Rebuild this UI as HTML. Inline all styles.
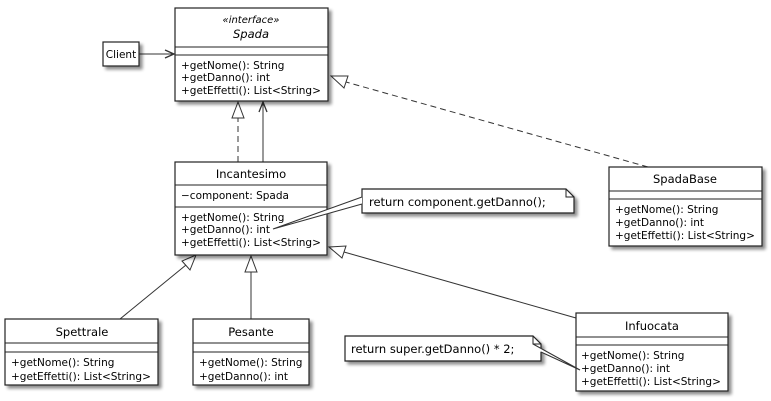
<!DOCTYPE html>
<html><head><meta charset="utf-8"><style>
html,body{margin:0;padding:0;background:#fff;}
svg{display:block;}
text{font-family:"DejaVu Sans","Liberation Sans",sans-serif;font-size:10.5px;fill:#000;}
</style></head><body>
<svg width="771" height="401" viewBox="0 0 771 401" xmlns="http://www.w3.org/2000/svg">
<defs>
<filter id="sh" x="-10%" y="-10%" width="130%" height="130%">
<feGaussianBlur in="SourceAlpha" stdDeviation="1.5"/><feOffset dx="3" dy="3"/>
<feComponentTransfer><feFuncA type="linear" slope="0.45"/></feComponentTransfer>
<feMerge><feMergeNode/><feMergeNode in="SourceGraphic"/></feMerge></filter>
</defs>
<g stroke="#333" fill="none" stroke-width="1">
<!-- connectors -->
<line x1="139" y1="54" x2="173" y2="54"/>
<path d="M165,50 L174,54 L165,58" stroke-width="1.3"/>
<line x1="238" y1="162" x2="238" y2="118" stroke-dasharray="6,4"/>
<path d="M238,102 L232,118 L244,118 Z" fill="#fff"/>
<line x1="263" y1="162" x2="263" y2="103"/>
<path d="M259,112 L263,102 L267,112" stroke-width="1.3"/>
<line x1="648" y1="167" x2="346" y2="82" stroke-dasharray="6,4"/>
<path d="M331,76 L348,76 L344,88 Z" fill="#fff"/>
<line x1="120" y1="319" x2="186" y2="265"/>
<path d="M196,255 L182,261 L190,270 Z" fill="#fff"/>
<line x1="251" y1="319" x2="251" y2="271"/>
<path d="M251,256 L245,272 L257,272 Z" fill="#fff"/>
<line x1="576" y1="318" x2="344" y2="252"/>
<path d="M329,247 L346,246 L342,258 Z" fill="#fff"/>
</g>
<g stroke="#222" stroke-width="1.2" fill="#fff" filter="url(#sh)">
<rect x="103" y="42" width="36" height="24"/>
<rect x="175" y="8" width="153" height="93"/>
<rect x="175" y="162" width="152" height="93"/>
<rect x="609" y="167" width="153" height="79"/>
<rect x="5" y="319" width="153" height="66"/>
<rect x="193" y="319" width="116" height="66"/>
<rect x="576" y="313" width="152" height="78"/>
<path d="M362,189 L566,189 L574,197 L574,213 L362,213 Z"/>
<path d="M345,336 L533,336 L541,344 L541,361 L345,361 Z"/>
</g>
<g stroke="#222" stroke-width="1" fill="none">
<line x1="175" y1="47" x2="328" y2="47"/><line x1="175" y1="55" x2="328" y2="55"/>
<line x1="175" y1="185" x2="327" y2="185"/><line x1="175" y1="207" x2="327" y2="207"/>
<line x1="609" y1="191" x2="762" y2="191"/><line x1="609" y1="199" x2="762" y2="199"/>
<line x1="5" y1="343" x2="158" y2="343"/><line x1="5" y1="352" x2="158" y2="352"/>
<line x1="193" y1="343" x2="309" y2="343"/><line x1="193" y1="352" x2="309" y2="352"/>
<line x1="576" y1="337" x2="728" y2="337"/><line x1="576" y1="345" x2="728" y2="345"/>
<path d="M566,189 L566,197 L574,197"/>
<path d="M533,336 L533,344 L541,344"/>
</g>
<!-- note connectors -->
<path d="M362,197 L273,229 L362,204" fill="#fff" stroke="#333" stroke-width="1"/>
<path d="M533,344 L580,370 L541,352" fill="#fff" stroke="#333" stroke-width="1"/>
<text x="121" y="58" text-anchor="middle">Client</text>
<text x="251" y="23" text-anchor="middle" font-style="italic" style="font-size:10px">«interface»</text>
<text x="251" y="38" text-anchor="middle" font-style="italic" style="font-size:11.5px">Spada</text>
<text x="181" y="69">+getNome(): String</text>
<text x="181" y="81">+getDanno(): int</text>
<text x="181" y="94">+getEffetti(): List&lt;String&gt;</text>
<text x="251" y="178" text-anchor="middle" style="font-size:11.5px">Incantesimo</text>
<text x="181" y="199">−component: Spada</text>
<text x="181" y="221">+getNome(): String</text>
<text x="181" y="233">+getDanno(): int</text>
<text x="181" y="246">+getEffetti(): List&lt;String&gt;</text>
<text x="369" y="206" style="font-size:11.5px">return component.getDanno();</text>
<text x="685" y="183" text-anchor="middle" style="font-size:11.5px">SpadaBase</text>
<text x="615" y="213">+getNome(): String</text>
<text x="615" y="226">+getDanno(): int</text>
<text x="615" y="239">+getEffetti(): List&lt;String&gt;</text>
<text x="82" y="336" text-anchor="middle" style="font-size:11.5px">Spettrale</text>
<text x="11" y="366">+getNome(): String</text>
<text x="11" y="380">+getEffetti(): List&lt;String&gt;</text>
<text x="251" y="336" text-anchor="middle" style="font-size:11.5px">Pesante</text>
<text x="199" y="366">+getNome(): String</text>
<text x="199" y="380">+getDanno(): int</text>
<text x="652" y="330" text-anchor="middle" style="font-size:11.5px">Infuocata</text>
<text x="581" y="359">+getNome(): String</text>
<text x="581" y="372">+getDanno(): int</text>
<text x="581" y="385">+getEffetti(): List&lt;String&gt;</text>
<text x="351" y="353" style="font-size:11.5px">return super.getDanno() * 2;</text>
</svg>
</body></html>
